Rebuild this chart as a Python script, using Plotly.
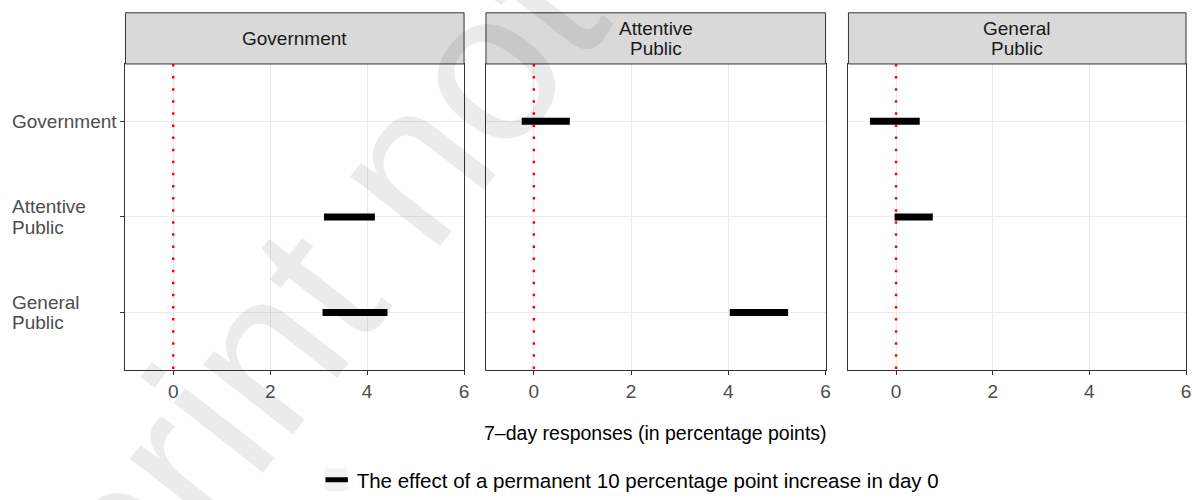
import plotly.graph_objects as go

# ---- data -------------------------------------------------------------
facets = ["Government", "Attentive<br>Public", "General<br>Public"]
rows = ["Government", "Attentive<br>Public", "General<br>Public"]

# 7-day responses (percentage points): interval low / high per row, per facet
gov_low = [None, 3.11, 3.08]
gov_high = [None, 4.16, 4.42]
att_low = [-0.25, None, 4.03]
att_high = [0.74, None, 5.23]
gen_low = [-0.54, -0.03, None]
gen_high = [0.49, 0.76, None]

x_ticks = [0, 2, 4, 6]
x_range = [-0.985, 6.0]

series_name = "The effect of a permanent 10 percentage point increase in day 0"
x_title = "7\u2013day responses (in percentage points)"
watermark = "Preprint not peer reviewed"

lows = [gov_low, att_low, gen_low]
highs = [gov_high, att_high, gen_high]

# ---- layout geometry (pixels) -----------------------------------------
W, H = 1196, 500
panel_px = [(126, 466), (488, 829), (852, 1191)]
plot_top, plot_bottom, strip_top = 65, 376, 13
FONT = "Liberation Sans, Arial, Helvetica, sans-serif"


def py(px):
    """pixel row -> paper y"""
    return (H - px) / H


fig = go.Figure()
layout = dict(
    width=W, height=H, autosize=False,
    margin=dict(l=0, r=0, t=0, b=0),
    paper_bgcolor="white", plot_bgcolor="white",
    font=dict(family=FONT, color="#1a1a1a"),
    shapes=[], annotations=[],
)


def add_multiline(lines_text, spacing, **kw):
    parts = lines_text.split("<br>")
    n = len(parts)
    for j, part in enumerate(parts):
        shift = ((n - 1) / 2 - j) * spacing
        layout["annotations"].append(dict(text=part, showarrow=False, yshift=shift, **kw))


for k in range(3):
    sfx = "" if k == 0 else str(k + 1)
    x0, x1 = panel_px[k]
    layout["xaxis" + sfx] = dict(
        domain=[x0 / W, x1 / W], anchor="y" + sfx, range=x_range,
        tickvals=x_ticks, ticks="outside", ticklen=4, tickwidth=1, tickcolor="#333333",
        tickfont=dict(size=19, color="#4d4d4d", family=FONT),
        showgrid=True, gridcolor="#ebebeb", gridwidth=1.1, zeroline=False,
        showline=True, linecolor="#333333", linewidth=1, mirror=True,
        fixedrange=True,
    )
    layout["yaxis" + sfx] = dict(
        domain=[py(plot_bottom), py(plot_top)], anchor="x" + sfx, range=[2.6, -0.6],
        tickvals=list(range(len(rows))), showticklabels=False,
        ticks="outside" if k == 0 else "", ticklen=4, tickwidth=1, tickcolor="#333333",
        showgrid=True, gridcolor="#ebebeb", gridwidth=1.1, zeroline=False,
        showline=True, linecolor="#333333", linewidth=1, mirror=True,
        fixedrange=True,
    )

    # interval bars for this facet
    xs, ys = [], []
    for i, (lo, hi) in enumerate(zip(lows[k], highs[k])):
        if lo is None or hi is None:
            continue
        xs += [lo, hi, None]
        ys += [i, i, None]
    fig.add_trace(go.Scatter(
        x=xs, y=ys, mode="lines", xaxis="x" + sfx, yaxis="y" + sfx,
        line=dict(color="black", width=7), showlegend=False, hoverinfo="skip",
    ))

    # strip header
    layout["shapes"].append(dict(
        type="rect", xref="x" + sfx + " domain", yref="paper",
        x0=0, x1=1, y0=py(plot_top), y1=py(strip_top),
        fillcolor="#d9d9d9", line=dict(color="#333333", width=1), layer="above",
    ))
    add_multiline(facets[k], 20, xref="x" + sfx + " domain", yref="paper",
                  x=0.5, y=py((plot_top + strip_top) / 2), xanchor="center", yanchor="middle",
                  font=dict(size=19, color="#1a1a1a", family=FONT))

    # zero reference line
    layout["shapes"].append(dict(
        type="line", xref="x" + sfx, yref="y" + sfx + " domain",
        x0=0, x1=0, y0=1, y1=0,
        line=dict(color="#ff0000", width=2.5, dash="2.5px,9.6px"), layer="above",
    ))

# row labels, left aligned on the first facet's scale
for i, lab in enumerate(rows):
    add_multiline(lab, 20.5, xref="paper", yref="y", x=10 / W, y=i,
                  xanchor="left", yanchor="middle", align="left",
                  font=dict(size=19, color="#4d4d4d", family=FONT))

# shared x-axis title
layout["annotations"].append(dict(
    text=x_title, showarrow=False, xref="paper", yref="paper",
    x=((panel_px[0][0] + panel_px[2][1]) / 2) / W, y=py(440),
    xanchor="center", yanchor="middle", font=dict(size=19.5, color="black", family=FONT),
))

# legend key background
layout["shapes"].append(dict(
    type="rect", xref="paper", yref="paper",
    x0=326 / W, x1=349 / W, y0=py(499), y1=py(476),
    fillcolor="#f2f2f2", line=dict(width=0), layer="below",
))

fig.add_trace(go.Scatter(
    x=[None], y=[None], mode="markers", name=series_name,
    marker=dict(symbol="line-ew-open", size=16, color="black", line=dict(width=5, color="black")),
    showlegend=True, hoverinfo="skip",
))
layout["legend"] = dict(
    orientation="h", x=318 / W, y=py(488), xanchor="left", yanchor="middle",
    font=dict(size=20.5, color="black", family=FONT), bgcolor="rgba(0,0,0,0)",
)
layout["showlegend"] = True

# diagonal watermark
layout["annotations"].append(dict(
    text=watermark, showarrow=False, xref="paper", yref="paper",
    x=651 / W, y=py(-144), xanchor="center", yanchor="middle", textangle=-52,
    font=dict(size=215, color="rgba(0,0,0,0.08)", family=FONT),
))

fig.update_layout(**layout)
fig.write_html("out.html")
